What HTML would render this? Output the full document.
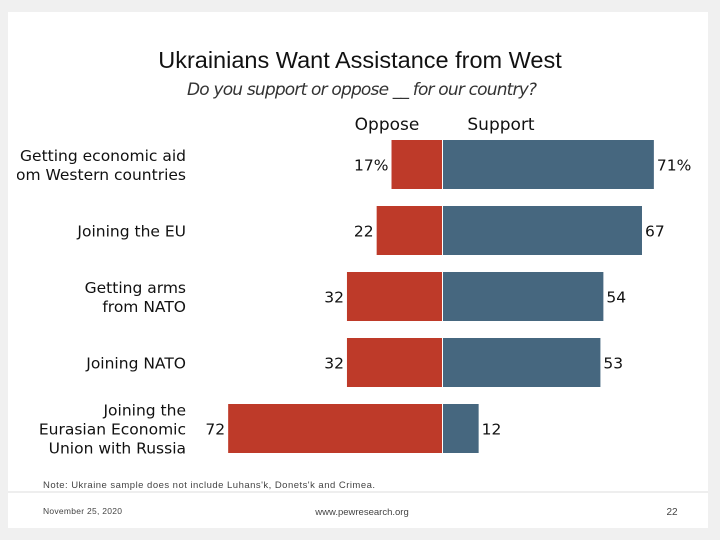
<!DOCTYPE html>
<html><head><meta charset="utf-8"><style>
body{margin:0;width:720px;height:540px;background:#f0f0f0;overflow:hidden;font-family:"Liberation Sans",sans-serif}
#slide{position:absolute;left:8px;top:12px;width:700px;height:516px;background:#fff}
</style></head><body>
<div id="slide"></div>
<svg width="720" height="540" style="position:absolute;left:0;top:0">
<defs><clipPath id="lc"><rect x="17" y="0" width="700" height="540"/></clipPath></defs>
<text x="360" y="68" text-anchor="middle" font-size="23.5" fill="#111">Ukrainians Want Assistance from West</text>
<text x="362" y="95" text-anchor="middle" font-size="17" font-style="italic" fill="#333" font-family="DejaVu Sans" textLength="350">Do you support or oppose __ for our country?</text>
<text x="387" y="130" text-anchor="middle" font-size="17" fill="#111" font-family="DejaVu Sans">Oppose</text>
<text x="501" y="130" text-anchor="middle" font-size="17" fill="#111" font-family="DejaVu Sans">Support</text>
<g id="bars" font-family="DejaVu Sans"></g>
<line x1="8" y1="492" x2="708" y2="492" stroke="#ddd"/>
<text x="43" y="488" font-size="9.5" fill="#444" textLength="332">Note: Ukraine sample does not include Luhans'k, Donets'k and Crimea.</text>
<text x="43" y="514" font-size="8.5" fill="#444" textLength="79">November 25, 2020</text>
<text x="362" y="515" text-anchor="middle" font-size="9.5" fill="#444">www.pewresearch.org</text>
<text x="672" y="515" text-anchor="middle" font-size="10" fill="#444">22</text>
</svg>
<script>
const categories=[["Getting economic aid","from Western countries"],["Joining the EU"],["Getting arms","from NATO"],["Joining NATO"],["Joining the","Eurasian Economic","Union with Russia"]];
const oppose=[17,22,32,32,72];
const support=[71,67,54,53,12];
const opposeLabels=["17%","22","32","32","72"];
const supportLabels=["71%","67","54","53","12"];
const NS="http://www.w3.org/2000/svg";
const g=document.getElementById('bars');
const zero=442, scale=2.97, top0=140, pitch=66, bh=49;
function mk(t,a){const e=document.createElementNS(NS,t);for(const k in a)e.setAttribute(k,a[k]);g.appendChild(e);return e;}
categories.forEach((c,i)=>{
  const y=top0+i*pitch, cy=y+bh/2;
  const ow=oppose[i]*scale, sw=support[i]*scale;
  const r1=mk('rect',{x:zero-ow,y:y,width:ow,height:bh,fill:'#be3a29'});
  
  
  const r2=mk('rect',{x:zero+1,y:y,width:sw,height:bh,fill:'#46677f'});
  
  
  const t1=mk('text',{x:zero-ow-3,y:cy+6,'text-anchor':'end','font-size':15.5,fill:'#111'});
  t1.textContent=opposeLabels[i];
  
  
  const t2=mk('text',{x:zero+1+sw+3,y:cy+6,'font-size':15.5,fill:'#111'});
  t2.textContent=supportLabels[i];
  
  
  const n=c.length, lh=19;
  c.forEach((line,j)=>{
    const t=mk('text',{x:186,y:cy+6+(j-(n-1)/2)*lh,'text-anchor':'end','font-size':15.5,fill:'#111','clip-path':'url(#lc)'});
    t.textContent=line;
    
    
  });
});
</script>
</body></html>
